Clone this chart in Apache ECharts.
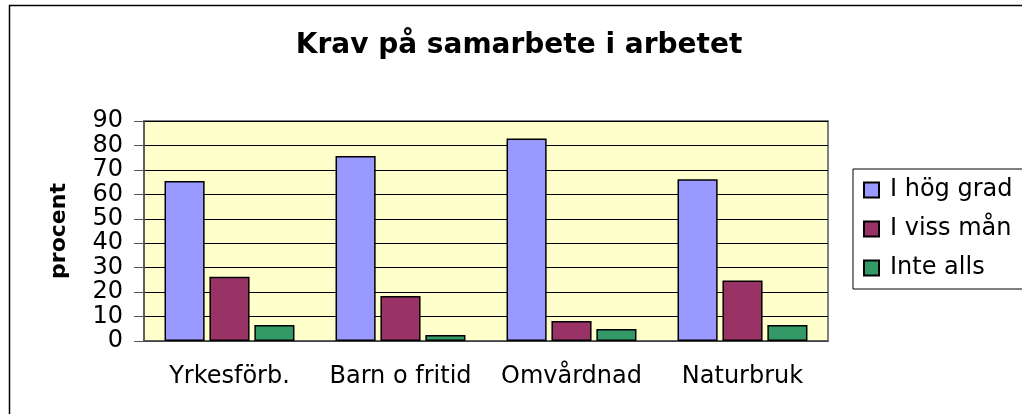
<!DOCTYPE html>
<html>
<head>
<meta charset="utf-8">
<script src="https://cdn.jsdelivr.net/npm/echarts@6/dist/echarts.min.js"></script>
<style>
  html, body { margin: 0; padding: 0; background: #fff; }
  #mountNode { width: 1022px; height: 414px; }
</style>
</head>
<body>
<div id="mountNode"></div>
<script>
// data
var categories = ['Yrkesförb.', 'Barn o fritid', 'Omvårdnad', 'Naturbruk'];
var hogGrad = [65.5, 75.7, 82.8, 66.2];
var vissMan = [26.3, 18.4, 8.2, 24.7];
var inteAlls = [6.5, 2.5, 4.9, 6.5];
var seriesNames = ['I hög grad', 'I viss mån', 'Inte alls'];

var font = '"DejaVu Sans", "Liberation Sans", Arial, sans-serif';

function bar(name, data, color) {
  return {
    name: name,
    type: 'bar',
    data: data,
    barGap: '12%',
    barCategoryGap: '24%',
    itemStyle: {
      color: color,
      borderColor: '#000',
      borderWidth: 1.5
    }
  };
}

var option = {
  animation: false,
  backgroundColor: '#fff',
  textStyle: { fontFamily: font },
  title: {
    text: 'Krav på samarbete i arbetet',
    left: 514,
    textAlign: 'center',
    top: 27,
    textStyle: { fontSize: 28, fontWeight: 'bold', color: '#000', fontFamily: font }
  },
  graphic: [{
    type: 'rect',
    shape: { x: 9.5, y: 5.5, width: 1100, height: 500 },
    style: { fill: 'none', stroke: '#000', lineWidth: 1.5 },
    silent: true
  }],
  legend: {
    orient: 'vertical',
    left: 853,
    top: 169,
    padding: [9, 40, 9, 10],
    itemGap: 15,
    itemWidth: 15,
    itemHeight: 15,
    borderColor: '#000',
    borderWidth: 1,
    icon: 'rect',
    textStyle: { fontSize: 24, color: '#000', fontFamily: font, padding: [0, 0, 0, 6] },
    data: seriesNames
  },
  grid: {
    left: 144,
    top: 121,
    width: 684,
    height: 220,
    show: true,
    backgroundColor: '#ffffcc',
    borderColor: '#808080',
    borderWidth: 2
  },
  xAxis: {
    type: 'category',
    data: categories,
    axisLine: { lineStyle: { color: '#555', width: 1.5 } },
    axisTick: { length: 7, lineStyle: { color: '#555' } },
    axisLabel: { fontSize: 24, color: '#000', margin: 24, interval: 0, hideOverlap: false, fontFamily: font }
  },
  yAxis: {
    type: 'value',
    min: 0,
    max: 90,
    interval: 10,
    name: 'procent',
    nameLocation: 'middle',
    nameGap: 74,
    nameRotate: 90,
    nameTextStyle: { fontSize: 22, fontWeight: 'bold', color: '#000', fontFamily: font },
    axisLine: { show: true, lineStyle: { color: '#555', width: 1.5 } },
    axisTick: { show: true, length: 10, lineStyle: { color: '#555' } },
    axisLabel: {
      fontSize: 24, color: '#000', margin: 21, fontFamily: font,
      showMinLabel: true, showMaxLabel: true, hideOverlap: false
    },
    splitLine: { lineStyle: { color: '#000', width: 1 } }
  },
  series: [
    bar(seriesNames[0], hogGrad, '#9999ff'),
    bar(seriesNames[1], vissMan, '#993366'),
    bar(seriesNames[2], inteAlls, '#339966')
  ]
};

var myChart = echarts.init(document.getElementById('mountNode'));
myChart.setOption(option);
</script>
</body>
</html>
